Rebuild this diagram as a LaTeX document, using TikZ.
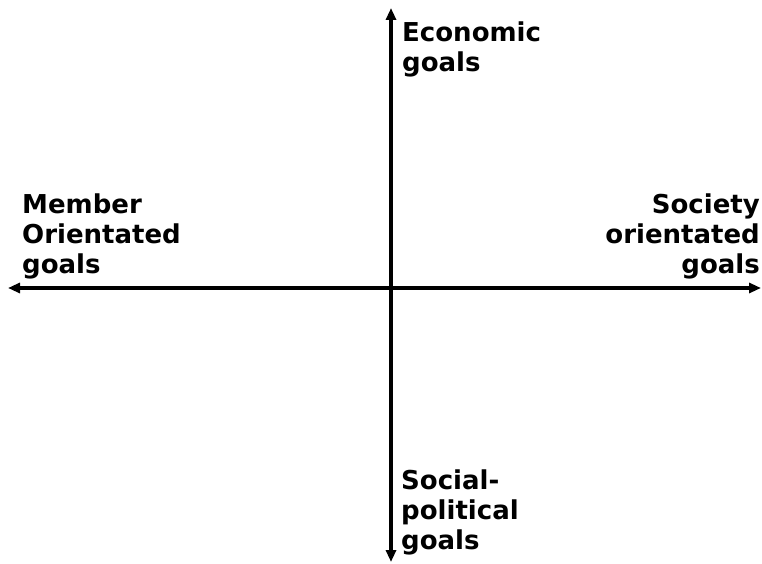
\documentclass[tikz,border=0pt]{standalone}
\usepackage{fontspec}
\setmainfont{DejaVu Sans}
\usetikzlibrary{arrows.meta}

\tikzset{
  axis/.style={line width=3.2pt,{Triangle[length=12pt,width=10pt]}-{Triangle[length=12pt,width=10pt]}},
  goal/.style={inner sep=0pt,font=\bfseries\fontsize{26}{30}\selectfont}
}

\begin{document}
\begin{tikzpicture}[x=1pt,y=1pt]
    \useasboundingbox (0,0) rectangle (762,563);
    % axis ends
    \coordinate (north) at (391,555);
    \coordinate (south) at (391,1);
    \coordinate (west) at (8,275);
    \coordinate (east) at (761,275);
    \draw[axis] (south) -- (north);
    \draw[axis] (west) -- (east);
    % quadrant labels (base = last line)
    \node[goal,anchor=base west,align=left] (econ) at (402,491) {Economic\\goals};
    \node[goal,anchor=base west,align=left] (member) at (22,290) {Member\\Orientated\\goals};
    \node[goal,anchor=base east,align=right] (society) at (760,290) {Society\\orientated\\goals};
    \node[goal,anchor=base west,align=left] (social) at (401,14) {Social-\\political\\goals};
  \end{tikzpicture}
\end{document}
